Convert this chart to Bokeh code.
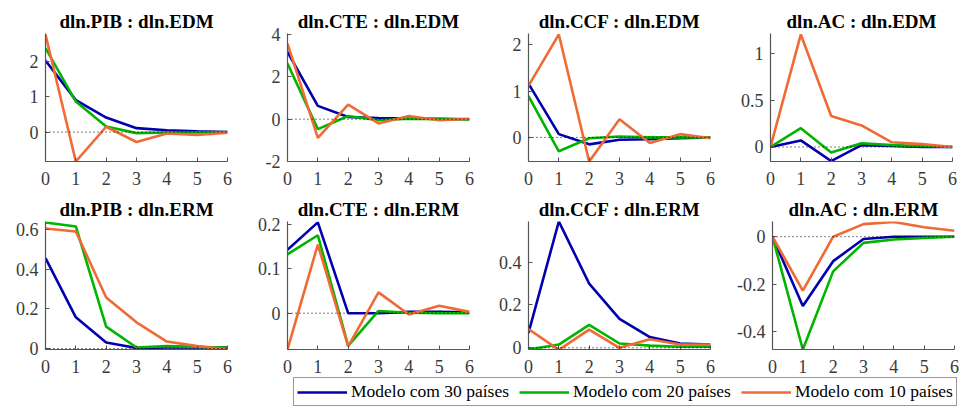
from bokeh.plotting import figure
from bokeh.layouts import column, row
from bokeh.models import Range1d, FixedTicker, Span, Legend, LegendItem
from bokeh.embed import file_html
from bokeh.resources import INLINE

horizons = [0, 1, 2, 3, 4, 5, 6]

titles = ["dln.PIB : dln.EDM", "dln.CTE : dln.EDM", "dln.CCF : dln.EDM", "dln.AC : dln.EDM",
          "dln.PIB : dln.ERM", "dln.CTE : dln.ERM", "dln.CCF : dln.ERM", "dln.AC : dln.ERM"]

series_names = ["Modelo com 30 países", "Modelo com 20 países", "Modelo com 10 países"]

# 30 countries (blue)
m30 = [
    [2.02, 0.90, 0.41, 0.11, 0.05, 0.02, 0.00],
    [3.18, 0.63, 0.10, 0.05, 0.03, 0.02, 0.00],
    [1.16, 0.07, -0.15, -0.05, -0.04, -0.02, 0.00],
    [0.00, 0.07, -0.15, 0.02, 0.01, 0.00, 0.00],
    [0.455, 0.157, 0.03, 0.003, 0.005, 0.005, 0.005],
    [0.143, 0.205, 0.0, 0.0, 0.003, 0.003, 0.002],
    [0.07, 0.59, 0.30, 0.135, 0.05, 0.02, 0.015],
    [0.0, -0.292, -0.103, -0.01, 0.0, 0.0, 0.0],
]
# 20 countries (green)
m20 = [
    [2.37, 0.86, 0.16, -0.03, -0.01, -0.01, 0.00],
    [2.63, -0.47, 0.15, -0.05, 0.02, 0.00, 0.00],
    [0.89, -0.30, -0.02, 0.02, 0.00, 0.00, 0.00],
    [0.00, 0.20, -0.06, 0.04, 0.02, 0.01, 0.00],
    [0.635, 0.615, 0.11, 0.005, 0.012, 0.008, 0.003],
    [0.133, 0.176, -0.074, 0.005, 0.001, 0.0, 0.0],
    [-0.008, 0.015, 0.107, 0.02, 0.01, 0.005, 0.005],
    [0.0, -0.475, -0.146, -0.026, -0.012, -0.005, 0.0],
]
# 10 countries (orange)
m10 = [
    [2.75, -0.83, 0.15, -0.28, -0.04, -0.08, -0.02],
    [3.57, -0.88, 0.69, -0.20, 0.15, -0.05, 0.02],
    [1.11, 2.22, -0.52, 0.39, -0.12, 0.07, -0.02],
    [0.00, 1.20, 0.33, 0.23, 0.05, 0.03, 0.00],
    [0.605, 0.59, 0.257, 0.132, 0.035, 0.012, -0.005],
    [-0.082, 0.155, -0.075, 0.047, -0.003, 0.017, 0.003],
    [0.088, -0.01, 0.085, 0.0, 0.04, 0.015, 0.015],
    [0.0, -0.227, 0.0, 0.053, 0.062, 0.04, 0.025],
]

ylims = [(-0.83, 2.78), (-2.0, 4.05), (-0.52, 2.24), (-0.155, 1.21),
         (-0.005, 0.64), (-0.082, 0.207), (-0.008, 0.59), (-0.475, 0.064)]
yticks = [[0, 1, 2], [-2, 0, 2, 4], [0, 1, 2], [0, 0.5, 1],
          [0, 0.2, 0.4, 0.6], [0, 0.1, 0.2], [0, 0.2, 0.4], [-0.4, -0.2, 0]]

colors = ["#0000b0", "#00b400", "#f06a35"]
FONT = "'Liberation Serif'"
AX = "#555555"

col_widths = [250, 241, 243, 225]
col_left = [45, 37, 37, 36]
FW = 182
FH = 128

def fmt(v):
    return "%g" % v

figs = []
for i in range(8):
    r, c = divmod(i, 4)
    top = 33 if r == 0 else 26
    bottom = 34 if r == 0 else 28
    p = figure(frame_width=FW, frame_height=FH, output_backend="svg", toolbar_location=None,
               x_range=Range1d(0, 6), y_range=Range1d(*ylims[i]),
               min_border_left=col_left[c], min_border_right=col_widths[c] - col_left[c] - FW,
               min_border_top=top, min_border_bottom=bottom,
               title=titles[i])
    p.outline_line_color = None
    p.xgrid.visible = False
    p.ygrid.visible = False
    p.background_fill_color = "white"
    p.border_fill_color = "white"
    p.title.align = "center"
    p.title.text_font = FONT
    p.title.text_font_size = "19px"
    p.title.text_font_style = "bold"
    p.title.text_color = "black"
    p.title.offset = 0
    p.title.standoff = 3
    for ax in (p.xaxis[0], p.yaxis[0]):
        ax.axis_line_color = AX
        ax.axis_line_width = 1.2
        ax.major_tick_line_color = AX
        ax.major_tick_in = 4
        ax.major_tick_out = 0
        ax.minor_tick_line_color = None
        ax.major_label_text_font = FONT
        ax.major_label_text_font_size = "18px"
        ax.major_label_text_color = "#3a3a3a"
    p.xaxis[0].ticker = FixedTicker(ticks=horizons)
    p.xaxis[0].major_label_standoff = 10
    p.yaxis[0].ticker = FixedTicker(ticks=yticks[i])
    p.yaxis[0].major_label_overrides = {t: fmt(t) for t in yticks[i]}
    p.yaxis[0].major_label_standoff = 7
    p.add_layout(Span(location=0, dimension="width", line_color="black",
                      line_dash="1 3", line_width=1))
    for vals, col in zip([m30[i], m20[i], m10[i]], colors):
        p.line(horizons, vals, line_color=col, line_width=2.6)
    figs.append(p)

# legend strip
lg = figure(width=959, height=30, output_backend="svg", toolbar_location=None,
            x_range=Range1d(0, 1), y_range=Range1d(0, 1),
            min_border=0, min_border_left=0, min_border_right=0,
            min_border_top=0, min_border_bottom=0)
lg.axis.visible = False
lg.xgrid.visible = False
lg.ygrid.visible = False
lg.outline_line_color = None
items = []
for name, col in zip(series_names, colors):
    rr = lg.line([-10, -9], [-10, -9], line_color=col, line_width=2.6)
    items.append(LegendItem(label=name, renderers=[rr]))
leg = Legend(items=items, orientation="horizontal", location=(293, 1),
             label_text_font=FONT, label_text_font_size="17.5px", label_text_color="black",
             glyph_width=50, glyph_height=14, label_standoff=4, spacing=10,
             padding=3, margin=0, border_line_color="#333333", border_line_width=1,
             background_fill_alpha=1.0, label_height=18)
lg.add_layout(leg)

layout = column(row(*figs[:4]), row(*figs[4:]), lg, spacing=0)
open("out.html", "w").write(file_html(layout, INLINE))
